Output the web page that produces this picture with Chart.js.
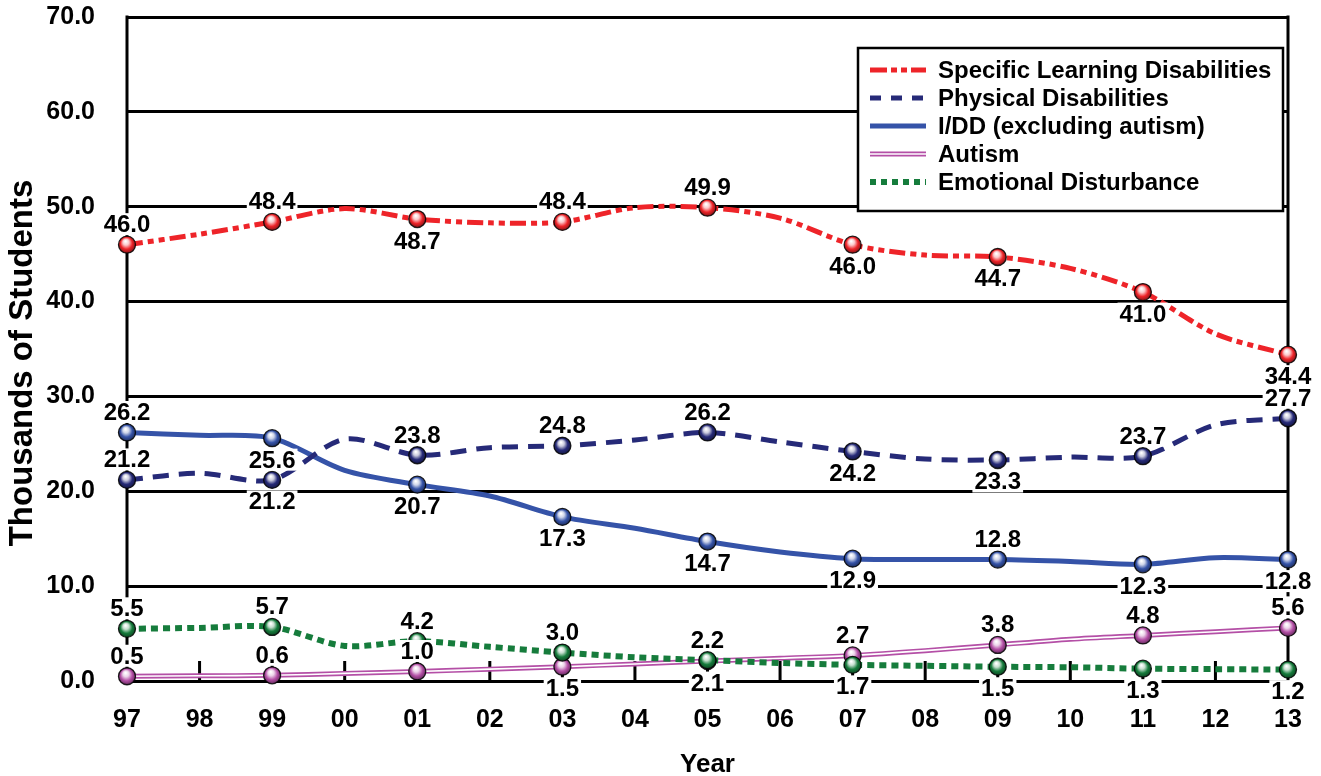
<!DOCTYPE html>
<html>
<head>
<meta charset="utf-8">
<script src="https://cdn.jsdelivr.net/npm/chart.js@4.4.1/dist/chart.umd.min.js"></script>
<style>
  html, body { margin: 0; padding: 0; background: #ffffff; }
  #wrap { width: 1321px; height: 776px; }
</style>
</head>
<body>
<div id="wrap"><canvas id="c" width="1321" height="776"></canvas></div>
<script>
// ---- data ----
const years = ['97','98','99','00','01','02','03','04','05','06','07','08','09','10','11','12','13'];
const sldValues      = [46.0, 47.1, 48.4, 49.8, 48.7, 48.3, 48.4, 49.9, 49.9, 48.8, 46.0, 44.9, 44.7, 43.5, 41.0, 36.6, 34.4];
const physicalValues = [21.2, 21.9, 21.2, 25.5, 23.8, 24.6, 24.8, 25.4, 26.2, 25.2, 24.2, 23.4, 23.3, 23.6, 23.7, 27.0, 27.7];
const iddValues      = [26.2, 25.9, 25.6, 22.2, 20.7, 19.5, 17.3, 16.1, 14.7, 13.6, 12.9, 12.8, 12.8, 12.6, 12.3, 13.0, 12.8];
const autismValues   = [0.5, 0.55, 0.6, 0.8, 1.0, 1.25, 1.5, 1.8, 2.1, 2.4, 2.7, 3.2, 3.8, 4.4, 4.8, 5.2, 5.6];
const edValues       = [5.5, 5.6, 5.7, 3.7, 4.2, 3.6, 3.0, 2.5, 2.2, 1.9, 1.7, 1.6, 1.5, 1.45, 1.3, 1.25, 1.2];
const yTicks = [0, 10, 20, 30, 40, 50, 60, 70];
// label side (above/below marker) for the labelled (odd) years
const sldSide  = ['up','up','down','up','up','down','down','down','down'];
const physSide = ['up','down','up','up','up','down','down','up','up'];
const iddSide  = ['up','down','down','down','down','down','up','down','down'];
const autSide  = ['up','up','up','down','down','up','up','up','up'];
const edSide   = ['up','up','up','up','up','down','down','down','down'];

const FONT = "'Liberation Sans', Arial, Helvetica, sans-serif";
const RED = '#ee2429', NAVY = '#262a78', BLUE = '#3553a8', PINK = '#b44fa6', GREEN = '#167c3c';

const series = [
  { label: 'Specific Learning Disabilities', data: sldValues, color: RED, dash: [16,5,6,5,6,5], width: 5, side: sldSide, order: 1 },
  { label: 'Physical Disabilities', data: physicalValues, color: NAVY, dash: [16,10], width: 5, side: physSide, order: 2 },
  { label: 'I/DD (excluding autism)', data: iddValues, color: BLUE, dash: [], width: 5, side: iddSide, order: 3 },
  { label: 'Autism', data: autismValues, color: PINK, dash: [], width: 5, side: autSide, order: 6, double: true },
  { label: 'Emotional Disturbance', data: edValues, color: GREEN, dash: [7,5], width: 6, side: edSide, order: 4 }
];

const datasets = [];
series.forEach((s, k) => {
  datasets.push({
    label: s.label, data: s.data, borderColor: s.color, backgroundColor: s.color,
    borderWidth: s.width, borderDash: s.dash, tension: 0.3, pointRadius: 0, pointHoverRadius: 0,
    fill: false, order: s.order, borderCapStyle: 'butt', _series: k
  });
  if (s.double) {
    datasets.push({
      label: s.label + ' inner', data: s.data, borderColor: '#ffffff', borderWidth: 1.6,
      tension: 0.3, pointRadius: 0, pointHoverRadius: 0, fill: false, order: s.order - 0.5, _inner: true
    });
  }
});

function shade(hex, f) {
  const n = parseInt(hex.slice(1), 16);
  let r = (n >> 16) & 255, g = (n >> 8) & 255, b = n & 255;
  if (f < 0) { r *= (1 + f); g *= (1 + f); b *= (1 + f); }
  else { r += (255 - r) * f; g += (255 - g) * f; b += (255 - b) * f; }
  return 'rgb(' + Math.round(r) + ',' + Math.round(g) + ',' + Math.round(b) + ')';
}

function drawSphere(ctx, x, y, color) {
  const r = 8.5;
  const g = ctx.createRadialGradient(x - 1.5, y - 3.5, 0.5, x, y, r + 1);
  g.addColorStop(0, '#ffffff');
  g.addColorStop(0.28, shade(color, 0.75));
  g.addColorStop(0.6, color);
  g.addColorStop(1, shade(color, -0.55));
  ctx.beginPath();
  ctx.arc(x, y, r, 0, Math.PI * 2);
  ctx.fillStyle = g;
  ctx.fill();
  ctx.lineWidth = 1.3;
  ctx.strokeStyle = 'rgba(0,0,0,0.85)';
  ctx.stroke();
}

const framePlugin = {
  id: 'frame',
  beforeDatasetsDraw(chart) {
    const { ctx, chartArea: a, scales } = chart;
    ctx.save();
    ctx.strokeStyle = '#000';
    ctx.lineWidth = 3;
    ctx.beginPath();
    ctx.moveTo(a.left, a.top - 1.5); ctx.lineTo(a.left, a.bottom + 1.5);
    ctx.moveTo(a.right, a.top - 1.5); ctx.lineTo(a.right, a.bottom + 1.5);
    years.forEach((yr, i) => {
      const x = scales.x.getPixelForValue(i);
      ctx.moveTo(x, a.bottom); ctx.lineTo(x, a.bottom - 20);
    });
    ctx.stroke();
    ctx.restore();
  }
};

const marksPlugin = {
  id: 'marks',
  afterDatasetsDraw(chart) {
    const ctx = chart.ctx;
    const items = [];
    chart.data.datasets.forEach((ds, di) => {
      if (ds._inner) return;
      const s = series[ds._series];
      const meta = chart.getDatasetMeta(di);
      meta.data.forEach((pt, i) => {
        if (i % 2 !== 0) return;
        items.push({ x: pt.x, y: pt.y, color: s.color, text: s.data[i].toFixed(1), side: s.side[i / 2] });
      });
    });
    ctx.save();
    items.forEach(it => drawSphere(ctx, it.x, it.y, it.color));
    ctx.font = 'bold 24px ' + FONT;
    ctx.textAlign = 'center';
    ctx.textBaseline = 'alphabetic';
    items.forEach(it => {
      const cy = it.side === 'up' ? it.y - 21 : it.y + 21;
      const base = cy + 8.5;
      const w = ctx.measureText(it.text).width;
      ctx.fillStyle = '#ffffff';
      ctx.fillRect(it.x - w / 2 - 2, base - 19, w + 4, 22);
      ctx.fillStyle = '#000000';
      ctx.fillText(it.text, it.x, base);
    });
    ctx.restore();
  },
  afterDraw(chart) {
    const ctx = chart.ctx;
    const a = chart.chartArea;
    ctx.save();
    ctx.fillStyle = '#000';
    ctx.font = 'bold 33px ' + FONT;
    ctx.textAlign = 'center';
    ctx.textBaseline = 'middle';
    ctx.save();
    ctx.translate(23, 363);
    ctx.rotate(-Math.PI / 2);
    ctx.fillText('Thousands of Students', 0, 0);
    ctx.restore();
    ctx.font = 'bold 26px ' + FONT;
    ctx.textBaseline = 'alphabetic';
    ctx.fillText('Year', (a.left + a.right) / 2, 772);

    // legend
    const bx = 858, by = 48, bw = 425, bh = 163;
    ctx.fillStyle = '#fff';
    ctx.fillRect(bx, by, bw, bh);
    ctx.lineWidth = 2.5;
    ctx.strokeStyle = '#000';
    ctx.strokeRect(bx, by, bw, bh);
    ctx.font = 'bold 24px ' + FONT;
    ctx.textAlign = 'left';
    ctx.textBaseline = 'middle';
    series.forEach((s, k) => {
      const y = 70 + k * 28;
      ctx.beginPath();
      ctx.moveTo(870, y); ctx.lineTo(926, y);
      ctx.strokeStyle = s.color;
      ctx.lineWidth = s.width;
      ctx.setLineDash(s.dash.length ? (k === 0 ? [17,4,6,4,6,4] : k === 1 ? [11,10] : [6,5]) : []);
      ctx.stroke();
      ctx.setLineDash([]);
      if (s.double) {
        ctx.beginPath();
        ctx.moveTo(870, y); ctx.lineTo(926, y);
        ctx.strokeStyle = '#fff';
        ctx.lineWidth = 1.6;
        ctx.stroke();
      }
      ctx.fillStyle = '#000';
      ctx.fillText(s.label, 938, y + 1);
    });
    ctx.restore();
  }
};

new Chart(document.getElementById('c'), {
  type: 'line',
  data: { labels: years, datasets: datasets },
  options: {
    responsive: false,
    animation: false,
    devicePixelRatio: 1,
    layout: { padding: { left: 0, right: 33, top: 17, bottom: 0 } },
    plugins: { legend: { display: false }, tooltip: { enabled: false } },
    scales: {
      x: {
        type: 'category',
        offset: false,
        grid: { display: false, drawTicks: false },
        border: { display: false },
        ticks: { color: '#000', font: { family: FONT, size: 25, weight: 'bold' }, padding: 24, maxRotation: 0, autoSkip: false },
        afterFit(scale) { scale.height = 95; scale.paddingLeft = 0; scale.paddingRight = 0; }
      },
      y: {
        min: 0, max: 70,
        afterBuildTicks(scale) { scale.ticks = yTicks.map(v => ({ value: v })); },
        grid: { color: '#000', lineWidth: 3, drawTicks: false },
        border: { display: false },
        ticks: { color: '#000', font: { family: FONT, size: 25, weight: 'bold' }, padding: 32, callback: v => Number(v).toFixed(1) },
        afterFit(scale) { scale.width = 127; scale.paddingTop = 0; scale.paddingBottom = 0; }
      }
    }
  },
  plugins: [framePlugin, marksPlugin]
});
</script>
</body>
</html>
